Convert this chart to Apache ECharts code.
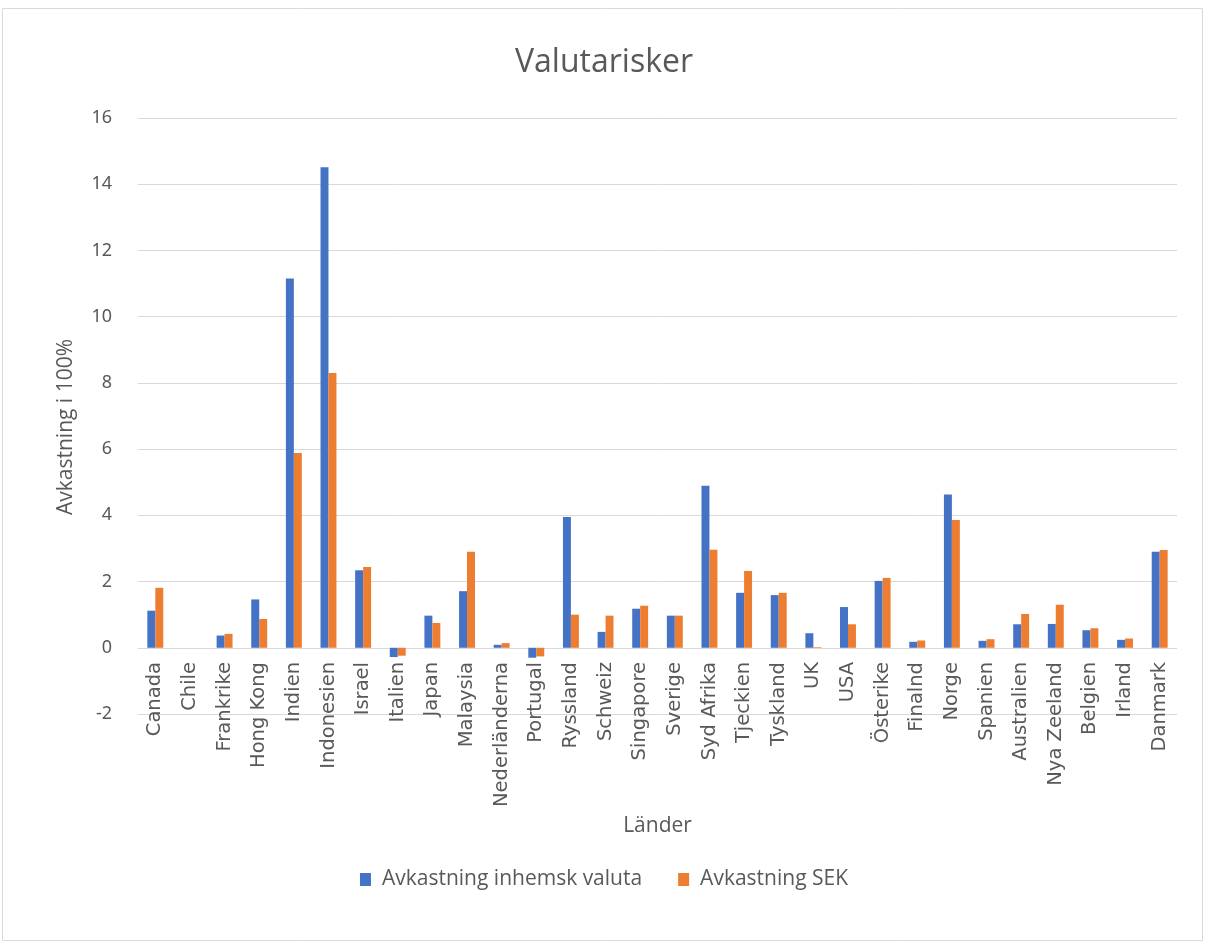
<!DOCTYPE html>
<html>
<head>
<meta charset="utf-8">
<script src="https://cdn.jsdelivr.net/npm/echarts@6/dist/echarts.min.js"></script>
<style>
  html, body { margin: 0; padding: 0; background: #fff; }
  #main { width: 1208px; height: 947px; }
</style>
</head>
<body>
<div id="main"></div>
<script>
// länder
var countries = ['Canada', 'Chile', 'Frankrike', 'Hong Kong', 'Indien', 'Indonesien', 'Israel', 'Italien',
  'Japan', 'Malaysia', 'Nederländerna', 'Portugal', 'Ryssland', 'Schweiz', 'Singapore', 'Sverige',
  'Syd Afrika', 'Tjeckien', 'Tyskland', 'UK', 'USA', 'Österike', 'Finalnd', 'Norge', 'Spanien',
  'Australien', 'Nya Zeeland', 'Belgien', 'Irland', 'Danmark'];

var inhemsk = [1.12, 0, 0.37, 1.46, 11.15, 14.51, 2.34, -0.28, 0.97, 1.71, 0.09, -0.3, 3.95, 0.48, 1.18, 0.97,
  4.89, 1.66, 1.59, 0.44, 1.23, 2.02, 0.18, 4.63, 0.21, 0.71, 0.72, 0.53, 0.24, 2.9];

var sek = [1.81, 0, 0.42, 0.87, 5.88, 8.3, 2.44, -0.24, 0.75, 2.9, 0.14, -0.26, 1.0, 0.97, 1.27, 0.97,
  2.96, 2.32, 1.66, 0.02, 0.71, 2.11, 0.22, 3.86, 0.26, 1.02, 1.3, 0.59, 0.28, 2.95];

var yTicks = { min: -2, max: 16, interval: 2 };

var txt = '#595959';
var chart = echarts.init(document.getElementById('main'));
chart.setOption({
  textStyle: { fontFamily: 'Noto Sans' },
  title: {
    text: 'Valutarisker',
    left: 'center',
    top: 42,
    textStyle: { fontSize: 32, fontWeight: 'normal', color: txt, fontFamily: 'Open Sans' }
  },
  graphic: [{
    type: 'rect',
    shape: { x: 2.5, y: 8.5, width: 1200, height: 932 },
    style: { fill: 'none', stroke: '#d9d9d9', lineWidth: 1 },
    silent: true
  }],
  legend: {
    bottom: 52,
    left: 'center',
    itemWidth: 11,
    itemHeight: 13,
    itemGap: 36,
    icon: 'rect',
    textStyle: { fontSize: 21, color: txt, fontFamily: 'Open Sans', padding: [0, 0, 0, 6] },
    data: ['Avkastning inhemsk valuta', 'Avkastning SEK']
  },
  grid: { left: 138, right: 31, top: 118, bottom: 233, containLabel: false },
  xAxis: {
    type: 'category',
    data: countries,
    name: 'Länder',
    nameLocation: 'middle',
    nameGap: 102,
    nameTextStyle: { fontSize: 21, color: txt, fontFamily: 'Open Sans' },
    axisLine: { show: false },
    axisTick: { show: false },
    // labels sit just under the zero line, like in the original
    axisLabel: { rotate: 90, interval: 0, fontSize: 19.5, color: txt, margin: -52, fontFamily: 'DejaVu Sans' }
  },
  yAxis: {
    type: 'value',
    min: yTicks.min,
    max: yTicks.max,
    interval: yTicks.interval,
    name: 'Avkastning i 100%',
    nameLocation: 'middle',
    nameGap: 61,
    nameTextStyle: { fontSize: 21, color: txt, fontFamily: 'Open Sans', padding: [0, 22, 0, 0] },
    axisLabel: { fontSize: 18, color: txt, margin: 26 },
    axisLine: { show: false },
    axisTick: { show: false },
    splitLine: { lineStyle: { color: '#d9d9d9', width: 1 } }
  },
  series: [
    {
      name: 'Avkastning inhemsk valuta',
      type: 'bar',
      data: inhemsk,
      barGap: '0%',
      barCategoryGap: '54%',
      itemStyle: { color: '#4472C4' }
    },
    {
      name: 'Avkastning SEK',
      type: 'bar',
      data: sek,
      barGap: '0%',
      barCategoryGap: '54%',
      itemStyle: { color: '#ED7D31' }
    }
  ]
});
</script>
</body>
</html>
